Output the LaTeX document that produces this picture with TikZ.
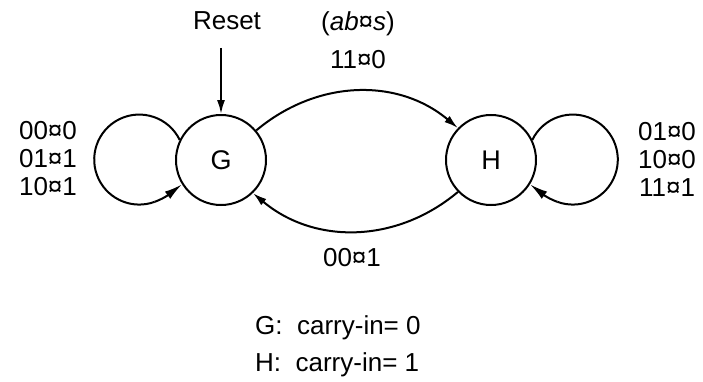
\documentclass[tikz,border=0pt]{standalone}
\usepackage{fontspec}
\setmainfont{Liberation Sans}
\usetikzlibrary{arrows.meta}
\begin{document}
\begin{tikzpicture}[x=1pt,y=1pt,
  state/.style={circle,draw,line width=2pt,minimum size=90pt,inner sep=0pt,font=\fontsize{27}{30}\selectfont},
  lbl/.style={inner sep=0pt,align=center,font=\fontsize{26}{28}\selectfont},
  ln/.style={line width=2pt},
  arr/.style={line width=2pt,-{Latex[length=14pt,width=8pt]}},
  looparr/.style={line width=2pt,-{Latex[length=18pt,width=9pt]}}]
\useasboundingbox (0,0) rectangle (703,381);
\node[state] (G) at (221,221) {G};
\node[state] (H) at (491,221) {H};
\node[lbl] (reset) at (227,360) {Reset};
\coordinate (rs) at (221,333);
\draw[arr] (rs) -- (G.north);
\node[lbl] (top1) at (358,357) {(\textit{ab}¤\textit{s})};
\node[lbl] (top2) at (358,321) {11¤0};
\node[lbl] (bot) at (352,123) {00¤1};
\node[lbl] (left) at (48,222) {00¤0\\01¤1\\10¤1};
\node[lbl] (right) at (667,222) {01¤0\\10¤0\\11¤1};
\node[lbl,align=left,anchor=west] (leg1) at (255,53) {G:\ \ carry-in= 0};
\node[lbl,align=left,anchor=west] (leg2) at (255,16) {H:\ \ carry-in= 1};
\draw[arr] (G.40) to[out=40,in=140] (H.136);
\draw[arr] (H.224) to[out=-140,in=-40] (G.314);
\draw[ln] (G.154) arc[start angle=26, end angle=290, radius=45] coordinate (gl);
\draw[looparr] (gl) to[out=20,in=217] (G.212);
\draw[ln] (H.26) arc[start angle=154, end angle=-110, radius=45] coordinate (hl);
\draw[looparr] (hl) to[out=160,in=-37] (H.-32);
\end{tikzpicture}
\end{document}
